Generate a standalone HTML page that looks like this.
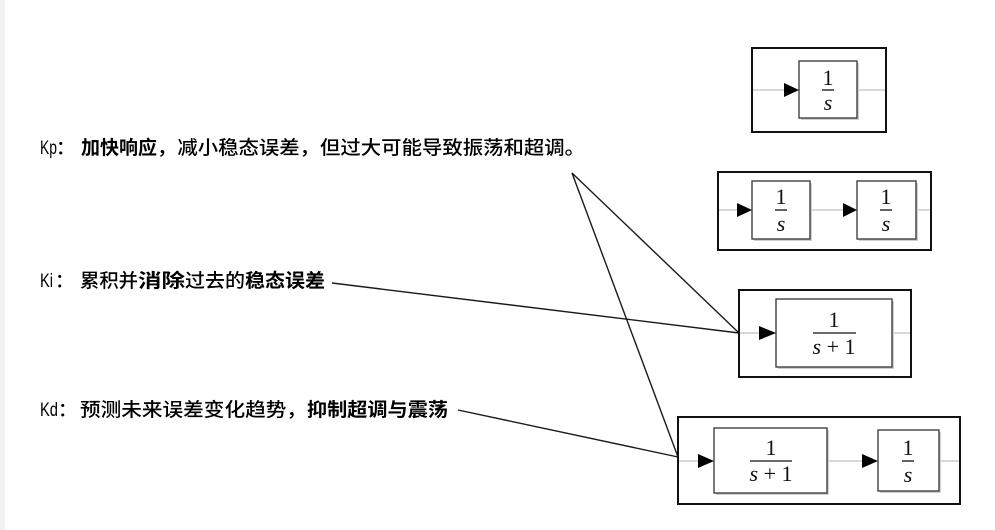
<!DOCTYPE html>
<html>
<head>
<meta charset="utf-8">
<style>
  html, body { margin: 0; padding: 0; background: #ffffff; }
  body { width: 995px; height: 530px; overflow: hidden; }
  svg { display: block; }
  .t { font-family: "Liberation Sans", "Noto Sans CJK SC", sans-serif; font-size: 19px; fill: #000; font-weight: 500; }
  .b { font-weight: 700; }
  .m { font-family: "Liberation Serif", serif; font-size: 22px; fill: #111; }
  .i { font-style: italic; }
</style>
</head>
<body>
<svg width="995" height="530" viewBox="0 0 995 530" xmlns="http://www.w3.org/2000/svg">
  <rect x="0" y="0" width="995" height="530" fill="#ffffff"/>
  <rect x="0" y="0" width="5" height="530" fill="#f2f2f2"/>

  <!-- Kp text -->
  <text class="t" x="40" y="154" textLength="17" lengthAdjust="spacingAndGlyphs">Kp</text>
  <text class="t" x="56" y="154">：</text>
  <text class="t b" x="81" y="154" textLength="76" lengthAdjust="spacingAndGlyphs">加快响应</text>
  <text class="t" x="157" y="154" textLength="428" lengthAdjust="spacingAndGlyphs">，减小稳态误差，但过大可能导致振荡和超调。</text>

  <!-- Ki text -->
  <text class="t" x="40" y="287" textLength="13" lengthAdjust="spacingAndGlyphs">Ki</text>
  <text class="t" x="55" y="287">：</text>
  <text class="t" x="80" y="287" textLength="58" lengthAdjust="spacingAndGlyphs">累积并</text>
  <text class="t b" x="138" y="287" textLength="47" lengthAdjust="spacingAndGlyphs">消除</text>
  <text class="t" x="185" y="287" textLength="60" lengthAdjust="spacingAndGlyphs">过去的</text>
  <text class="t b" x="245" y="287" textLength="80" lengthAdjust="spacingAndGlyphs">稳态误差</text>

  <!-- Kd text -->
  <text class="t" x="40" y="416" textLength="18" lengthAdjust="spacingAndGlyphs">Kd</text>
  <text class="t" x="58" y="416">：</text>
  <text class="t" x="80" y="416" textLength="227" lengthAdjust="spacingAndGlyphs">预测未来误差变化趋势，</text>
  <text class="t b" x="307" y="416" textLength="141" lengthAdjust="spacingAndGlyphs">抑制超调与震荡</text>

  <!-- connectors -->
  <g stroke="#1a1a1a" stroke-width="1.4" fill="none">
    <line x1="572" y1="173" x2="739" y2="333"/>
    <line x1="572" y1="173" x2="678" y2="457"/>
    <line x1="332" y1="283" x2="739" y2="333"/>
    <line x1="458" y1="410" x2="678" y2="457"/>
  </g>

  <!-- Box 1 : 1/s -->
  <line x1="752" y1="90" x2="886" y2="90" stroke="#b0b0b0" stroke-width="1"/>
  <rect x="752" y="48" width="134" height="84" fill="none" stroke="#111" stroke-width="2"/>
  <rect x="801" y="63" width="58" height="57" fill="#d0d0d0"/>
  <rect x="799" y="61" width="58" height="57" fill="#fff" stroke="#333" stroke-width="1.3"/>
  <polygon points="784,83 799,90 784,97" fill="#000"/>
  <text class="m" x="828" y="85" text-anchor="middle">1</text>
  <line x1="822" y1="90" x2="834" y2="90" stroke="#111" stroke-width="1.3"/>
  <text class="m i" x="828" y="110" text-anchor="middle">s</text>

  <!-- Box 2 : 1/s 1/s -->
  <line x1="718" y1="210" x2="931" y2="210" stroke="#b0b0b0" stroke-width="1"/>
  <rect x="718" y="172" width="213" height="78" fill="none" stroke="#111" stroke-width="2"/>
  <rect x="754" y="183" width="58" height="58" fill="#d0d0d0"/>
  <rect x="752" y="181" width="58" height="58" fill="#fff" stroke="#333" stroke-width="1.3"/>
  <rect x="859" y="183" width="59" height="58" fill="#d0d0d0"/>
  <rect x="857" y="181" width="59" height="58" fill="#fff" stroke="#333" stroke-width="1.3"/>
  <polygon points="737,203 752,210 737,217" fill="#000"/>
  <polygon points="843,203 857,210 843,217" fill="#000"/>
  <text class="m" x="781" y="204" text-anchor="middle">1</text>
  <line x1="775" y1="210" x2="787" y2="210" stroke="#111" stroke-width="1.3"/>
  <text class="m i" x="781" y="231" text-anchor="middle">s</text>
  <text class="m" x="886" y="204" text-anchor="middle">1</text>
  <line x1="880" y1="210" x2="892" y2="210" stroke="#111" stroke-width="1.3"/>
  <text class="m i" x="886" y="231" text-anchor="middle">s</text>

  <!-- Box 3 : 1/(s+1) -->
  <line x1="739" y1="333" x2="911" y2="333" stroke="#b0b0b0" stroke-width="1"/>
  <rect x="739" y="290" width="172" height="87" fill="none" stroke="#111" stroke-width="2"/>
  <rect x="778" y="301" width="116" height="68" fill="#d0d0d0"/>
  <rect x="776" y="299" width="116" height="68" fill="#fff" stroke="#333" stroke-width="1.3"/>
  <polygon points="759,326 776,333 759,340" fill="#000"/>
  <text class="m" x="834" y="327" text-anchor="middle">1</text>
  <line x1="813" y1="333" x2="856" y2="333" stroke="#111" stroke-width="1.3"/>
  <text class="m" x="834" y="354" text-anchor="middle"><tspan class="i">s</tspan> + 1</text>

  <!-- Box 4 : 1/(s+1) 1/s -->
  <line x1="678" y1="461" x2="960" y2="461" stroke="#b0b0b0" stroke-width="1"/>
  <rect x="678" y="417" width="282" height="87" fill="none" stroke="#111" stroke-width="2"/>
  <rect x="716" y="430" width="113" height="65" fill="#d0d0d0"/>
  <rect x="714" y="428" width="113" height="65" fill="#fff" stroke="#333" stroke-width="1.3"/>
  <rect x="880" y="432" width="61" height="61" fill="#d0d0d0"/>
  <rect x="878" y="430" width="61" height="61" fill="#fff" stroke="#333" stroke-width="1.3"/>
  <polygon points="698,454 714,461 698,468" fill="#000"/>
  <polygon points="862,454 878,461 862,468" fill="#000"/>
  <text class="m" x="771" y="455" text-anchor="middle">1</text>
  <line x1="750" y1="461" x2="792" y2="461" stroke="#111" stroke-width="1.3"/>
  <text class="m" x="771" y="481" text-anchor="middle"><tspan class="i">s</tspan> + 1</text>
  <text class="m" x="908" y="455" text-anchor="middle">1</text>
  <line x1="902" y1="461" x2="914" y2="461" stroke="#111" stroke-width="1.3"/>
  <text class="m i" x="908" y="482" text-anchor="middle">s</text>
</svg>
</body>
</html>
